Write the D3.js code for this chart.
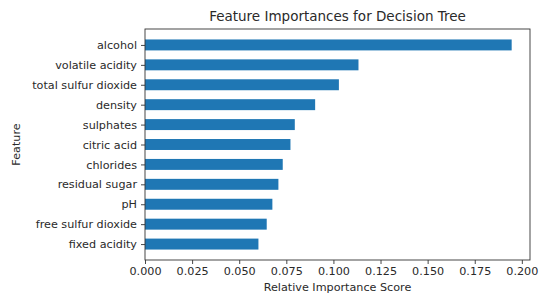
<!DOCTYPE html>
<html><head><meta charset="utf-8">
<script src="https://cdn.jsdelivr.net/npm/d3@7"></script>
<style>body{margin:0;background:#fff;} text{font-family:"DejaVu Sans",sans-serif;}</style>
</head><body><svg id="c" width="542" height="293"></svg>
<script>
const features = ["alcohol","volatile acidity","total sulfur dioxide","density","sulphates","citric acid","chlorides","residual sugar","pH","free sulfur dioxide","fixed acidity"];
const importances = [0.1946,0.1133,0.1029,0.0903,0.0795,0.0772,0.0731,0.0708,0.0676,0.0646,0.0602];
const xTicks = [0,0.025,0.05,0.075,0.1,0.125,0.15,0.175,0.2];
const title = "Feature Importances for Decision Tree";
const xLabel = "Relative Importance Score";
const yLabel = "Feature";

const L=145, R=530, T=29, B=260;
const svg = d3.select("#c");
const x = d3.scaleLinear().domain([0, d3.max(importances)*1.05]).range([L,R]);
const y = d3.scaleLinear().domain([-0.8, features.length-1+0.8]).range([T,B]);
const bh = (y(1)-y(0))*0.55;

svg.selectAll("rect.bar").data(importances).join("rect").attr("class","bar")
  .attr("x",x(0)).attr("y",(d,i)=>y(i)-bh/2).attr("width",d=>x(d)-x(0)).attr("height",bh)
  .attr("fill","#1f77b4");

svg.append("rect").attr("x",L).attr("y",T).attr("width",R-L).attr("height",B-T)
  .attr("fill","none").attr("stroke","#333").attr("stroke-width",0.9);

const xa = svg.append("g").attr("transform",`translate(0,${B})`)
  .call(d3.axisBottom(x).tickValues(xTicks).tickFormat(d3.format(".3f")).tickSize(4).tickPadding(3));
const ya = svg.append("g").attr("transform",`translate(${L},0)`)
  .call(d3.axisLeft(y).tickValues(d3.range(features.length)).tickFormat(i=>features[i]).tickSize(4).tickPadding(4));
[xa,ya].forEach(a=>{a.select(".domain").remove();
  a.selectAll("line").attr("stroke","#333").attr("stroke-width",0.9);
  a.selectAll("text").attr("fill","#2a2a2a").style("font-size","11.2px").style("font-family","DejaVu Sans");});

svg.append("text").attr("x",(L+R)/2).attr("y",21).attr("text-anchor","middle")
  .style("font-size","13.5px").attr("fill","#2a2a2a").text(title);
svg.append("text").attr("x",(L+R)/2).attr("y",291).attr("text-anchor","middle")
  .style("font-size","11.2px").attr("fill","#2a2a2a").text(xLabel);
svg.append("text").attr("transform",`translate(19.5,${(T+B)/2}) rotate(-90)`).attr("text-anchor","middle")
  .style("font-size","11.2px").attr("fill","#2a2a2a").text(yLabel);
</script></body></html>
